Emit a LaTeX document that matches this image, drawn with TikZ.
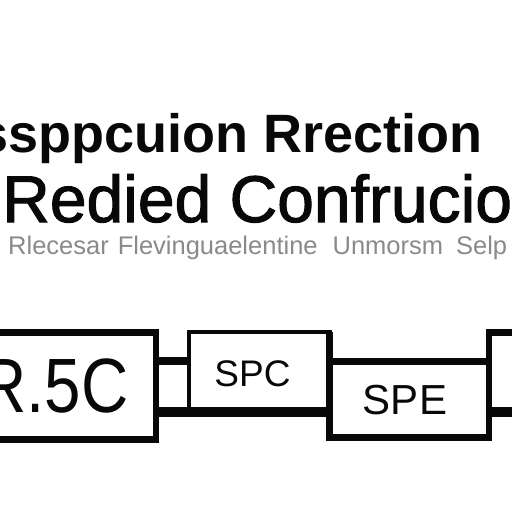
\documentclass[tikz,border=0pt]{standalone}
\usepackage{fontspec}
\setmainfont{Liberation Sans}
\newfontfamily\heavysans[FakeBold=1.6]{Liberation Sans}
\usepackage{xcolor}
\usetikzlibrary{positioning,calc}
\definecolor{inkblack}{RGB}{8,8,8}
\definecolor{fadegray}{RGB}{138,138,138}

\begin{document}
\begin{tikzpicture}[x=1pt,y=-1pt,
  blk/.style={rectangle, draw=inkblack, line width=6.5pt, inner sep=0pt, outer sep=0pt, anchor=north west},
  thinblk/.style={blk, line width=4pt},
  wire/.style={draw=inkblack, line width=8pt},
  heading/.style={inner sep=0pt, text=inkblack}
]
\fill[white] (0,0) rectangle (512,512);
\useasboundingbox (0,0) rectangle (512,512);
\clip (0,0) rectangle (512,512);

% title lines
\node[heading, anchor=base east, font=\fontsize{54}{60}\selectfont\bfseries] (title) at (483,152) {ssppcuion Rrection};
\node[heading, anchor=base west, font=\fontsize{66}{70}\heavysans] (subtitle) at (2,222) {Redied Confrucio};
\node[heading, anchor=base west, text=fadegray, font=\fontsize{25.5}{28}\selectfont] (caption) at (8,254)
  {Rlecesar\hspace{9pt}Flevinguaelentine\hspace{15pt}Unmorsm\hspace{13pt}Selp};

% boxes
\node[blk, minimum width=186pt, minimum height=107pt] (rsc) at (-30,332.5) {};
\node[thinblk, minimum width=141pt, minimum height=80pt] (spc) at (188.5,332) {};
\node[blk, minimum width=159.5pt, minimum height=76.5pt] (spe) at (329.5,361) {};
\node[blk, minimum width=80pt, minimum height=79.5pt] (ext) at (489,332.5) {};

\node[heading, anchor=base west, xscale=0.85, font=\fontsize{77}{80}\selectfont] (rsclbl) at (-21,412) {R.5C};
\node[heading, anchor=base, font=\fontsize{37}{40}\selectfont] (spclbl) at (252.5,386) {SPC};
\node[heading, anchor=base, font=\fontsize{42}{45}\selectfont] (spelbl) at (405,414) {SPE};

% connectors
\draw[wire] ($(rsc.north east)+(0,28.5)$) -- ($(spc.north west)+(0,29)$);
\draw[wire, line width=9.5pt] ($(rsc.north east)+(0,79.5)$) -- (spc.south west) -- (spe.west |- spc.south);
\draw[wire, line width=7pt] (spc.north east) -- (spe.south west);
\draw[wire, line width=7pt] (spe.north west) -- (ext.west |- spe.north);
\draw[wire, line width=9.5pt] (ext.south west) -- (ext.south east);
\end{tikzpicture}
\end{document}
